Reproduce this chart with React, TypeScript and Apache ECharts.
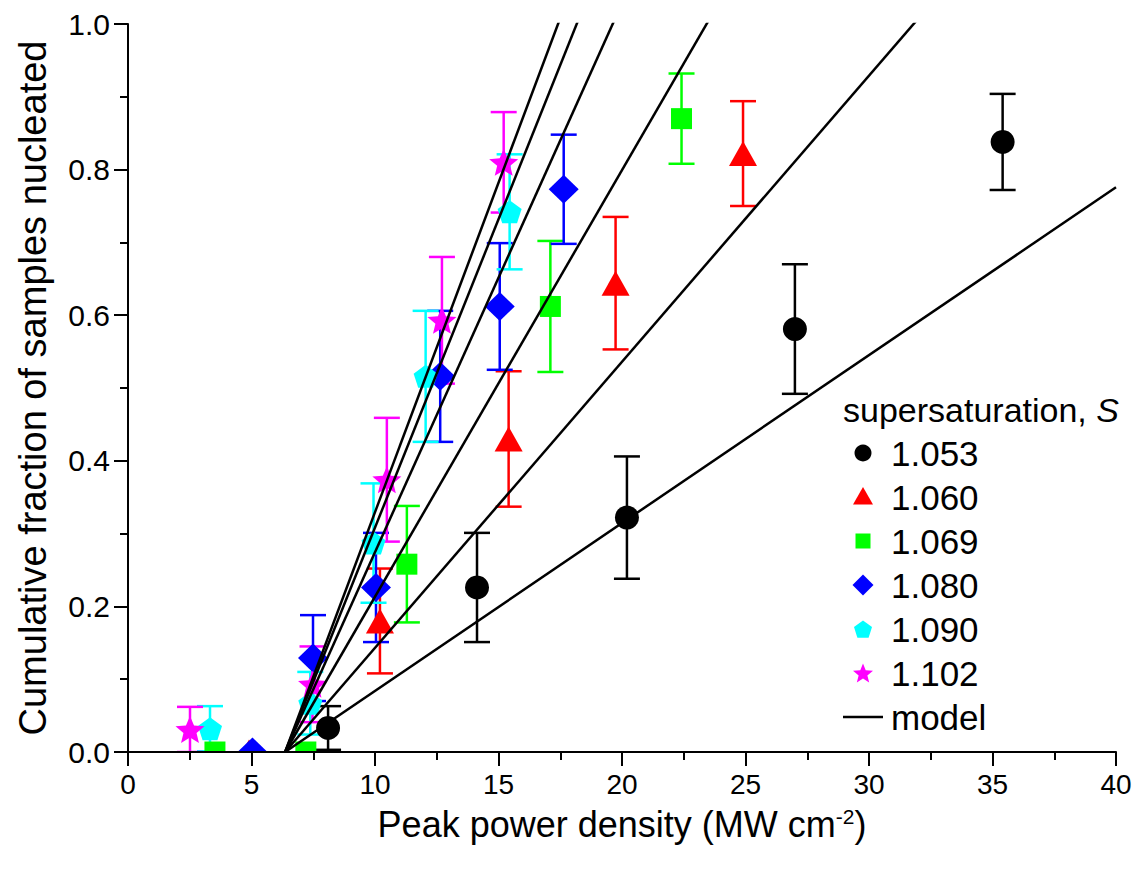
import React, { useEffect, useRef } from "react";
import * as echarts from "echarts";

// ---- data ----
const s1053X = [8.1, 14.13, 20.2, 27.0, 35.41];
const s1053Y = [0.033, 0.226, 0.322, 0.581, 0.838];
const s1053E = [0.03, 0.075, 0.084, 0.089, 0.066];

const s1060X = [4.9, 10.2, 15.41, 19.74, 24.9];
const s1060Y = [0, 0.18, 0.43, 0.644, 0.822];
const s1060E = [0, 0.072, 0.093, 0.091, 0.072];

const s1069X = [3.52, 7.2, 11.29, 17.1, 22.41];
const s1069Y = [0, 0, 0.258, 0.612, 0.87];
const s1069E = [0, 0, 0.08, 0.09, 0.062];

const s1080X = [5.04, 7.49, 10.04, 12.64, 15.05, 17.64];
const s1080Y = [0, 0.129, 0.226, 0.516, 0.612, 0.773];
const s1080E = [0, 0.059, 0.075, 0.09, 0.087, 0.075];

const s1090X = [3.32, 7.38, 9.94, 12.05, 15.45];
const s1090Y = [0.032, 0.067, 0.287, 0.516, 0.742];
const s1090E = [0.031, 0.043, 0.082, 0.09, 0.079];

const s1102X = [2.51, 7.47, 10.48, 12.71, 15.21];
const s1102Y = [0.031, 0.093, 0.374, 0.593, 0.81];
const s1102E = [0.031, 0.052, 0.085, 0.087, 0.069];

const seriesNames = ["1.053", "1.060", "1.069", "1.080", "1.090", "1.102"];
const seriesColors = ["#000000", "#ff0000", "#00ff00", "#0000ff", "#00ffff", "#ff00ff"];
const legendTitle = "supersaturation, ";
const legendTitleItalic = "S";
const modelName = "model";

// model: straight lines starting at a threshold power density
const modelThreshold = 6.36;
const modelSlopes = [0.02306, 0.0393, 0.0586, 0.0754, 0.0847, 0.0905];

const xMin = 0, xMax = 40, xStep = 5;
const yMin = 0, yMax = 1, yStep = 0.2;

const PENTAGON = "path://M50,0 L97.55,34.55 L79.39,90.45 L20.61,90.45 L2.45,34.55 Z";
const STAR =
  "path://M50,0 L63.23,31.8 L97.55,34.55 L71.4,56.95 L79.39,90.45 L50,72.5 L20.61,90.45 L28.6,56.95 L2.45,34.55 L36.77,31.8 Z";

const FONT = "Liberation Sans, Arial, sans-serif";

function starPoints(cx: number, cy: number, R: number, r: number, n: number) {
  const pts: number[][] = [];
  for (let k = 0; k < 2 * n; k++) {
    const a = -Math.PI / 2 + (k * Math.PI) / n;
    const rad = k % 2 === 0 ? R : r;
    pts.push([cx + rad * Math.cos(a), cy + rad * Math.sin(a)]);
  }
  return pts;
}
function regularPoints(cx: number, cy: number, R: number, n: number) {
  const pts: number[][] = [];
  for (let k = 0; k < n; k++) {
    const a = -Math.PI / 2 + (2 * k * Math.PI) / n;
    pts.push([cx + R * Math.cos(a), cy + R * Math.sin(a)]);
  }
  return pts;
}

export default function App() {
  const ref = useRef<HTMLDivElement>(null);

  useEffect(() => {
    document.body.style.margin = "0";
    const chart = echarts.init(ref.current!, null, { renderer: "svg" });

    const xs = [s1053X, s1060X, s1069X, s1080X, s1090X, s1102X];
    const ys = [s1053Y, s1060Y, s1069Y, s1080Y, s1090Y, s1102Y];
    const es = [s1053E, s1060E, s1069E, s1080E, s1090E, s1102E];
    const symbols: any[] = ["circle", "triangle", "rect", "diamond", PENTAGON, STAR];
    const sizes: any[] = [24, [28, 25], [21, 21], [30, 29], [24, 23], [29, 27]];

    const series: any[] = [];
    seriesNames.forEach((name, i) => {
      const color = seriesColors[i];
      const data = xs[i].map((x, j) => [x, ys[i][j], es[i][j]]);
      series.push({
        name: "err" + name,
        type: "custom",
        z: 2,
        clip: true,
        data,
        renderItem: (params: any, api: any) => {
          const x = api.value(0);
          const y = api.value(1);
          const e = api.value(2);
          if (!e) return { type: "group", children: [] };
          const top = api.coord([x, y + e]);
          const bot = api.coord([x, Math.max(0, y - e)]);
          const hw = 13;
          const style = { stroke: color, lineWidth: 2.5 };
          return {
            type: "group",
            children: [
              { type: "line", shape: { x1: top[0], y1: top[1], x2: bot[0], y2: bot[1] }, style },
              { type: "line", shape: { x1: top[0] - hw, y1: top[1], x2: top[0] + hw, y2: top[1] }, style },
              { type: "line", shape: { x1: bot[0] - hw, y1: bot[1], x2: bot[0] + hw, y2: bot[1] }, style },
            ],
          };
        },
      });
      series.push({
        name,
        type: "scatter",
        z: 2,
        clip: true,
        symbol: symbols[i],
        symbolSize: sizes[i],
        itemStyle: { color, opacity: 1 },
        data: data.map((d) => [d[0], d[1]]),
      });
    });

    modelSlopes.forEach((k) => {
      series.push({
        name: modelName,
        type: "line",
        z: 5,
        clip: true,
        symbol: "none",
        showSymbol: false,
        lineStyle: { color: "#000", width: 2.5 },
        data: [
          [modelThreshold, 0],
          [xMax, k * (xMax - modelThreshold)],
        ],
      });
    });

    // ---- hand-drawn legend ----
    const lgX = 843, lgSymX = 863, lgTextX = 891, lgY0 = 453, lgStep = 44;
    const legendGraphics: any[] = [
      {
        type: "text",
        x: lgX,
        y: 410,
        style: {
          text: `{a|${legendTitle}}{i|${legendTitleItalic}}`,
          verticalAlign: "middle",
          rich: {
            a: { fontSize: 34, fill: "#000", fontFamily: FONT },
            i: { fontSize: 34, fill: "#000", fontFamily: FONT, fontStyle: "italic" },
          },
        },
      },
    ];
    seriesNames.forEach((name, i) => {
      const cy = lgY0 + i * lgStep;
      const cx = lgSymX;
      const fill = seriesColors[i];
      let sym: any;
      if (i === 0) sym = { type: "circle", shape: { cx, cy, r: 8.5 }, style: { fill } };
      else if (i === 1)
        sym = { type: "polygon", shape: { points: [[cx - 10, cy + 7.5], [cx + 10, cy + 7.5], [cx, cy - 10]] }, style: { fill } };
      else if (i === 2) sym = { type: "rect", shape: { x: cx - 7.5, y: cy - 7.5, width: 15, height: 15 }, style: { fill } };
      else if (i === 3)
        sym = { type: "polygon", shape: { points: [[cx, cy - 10.5], [cx + 10.5, cy], [cx, cy + 10.5], [cx - 10.5, cy]] }, style: { fill } };
      else if (i === 4) sym = { type: "polygon", shape: { points: regularPoints(cx, cy + 1, 9.5, 5) }, style: { fill } };
      else sym = { type: "polygon", shape: { points: starPoints(cx, cy + 1, 10.5, 4.6, 5) }, style: { fill } };
      legendGraphics.push(sym);
      legendGraphics.push({
        type: "text",
        x: lgTextX,
        y: cy,
        style: { text: name, fontSize: 35, fill: "#000", fontFamily: FONT, verticalAlign: "middle" },
      });
    });
    {
      const cy = lgY0 + seriesNames.length * lgStep;
      legendGraphics.push({
        type: "line",
        shape: { x1: lgX, y1: cy, x2: lgX + 40, y2: cy },
        style: { stroke: "#000", lineWidth: 2.5 },
      });
      legendGraphics.push({
        type: "text",
        x: lgTextX,
        y: cy,
        style: { text: modelName, fontSize: 35, fill: "#000", fontFamily: FONT, verticalAlign: "middle" },
      });
    }
    // mask hiding the parts of markers that fall below the x axis
    legendGraphics.push({
      type: "rect",
      z: 4,
      shape: { x: 129, y: 753, width: 1010, height: 30 },
      style: { fill: "#fff" },
    });

    const axisCommon = {
      z: 10,
      axisLine: { show: true, onZero: false, lineStyle: { color: "#000", width: 2 } },
      axisTick: { show: true, inside: false, length: 14, lineStyle: { color: "#000", width: 2 } },
      minorTick: { show: true, splitNumber: 2, length: 8, lineStyle: { color: "#000", width: 2 } },
      splitLine: { show: false },
    };

    const option: any = {
      animation: false,
      backgroundColor: "#fff",
      textStyle: { fontFamily: FONT },
      grid: { left: 128, right: 23, top: 24, bottom: 120, containLabel: false },
      xAxis: {
        ...axisCommon,
        type: "value",
        min: xMin,
        max: xMax,
        interval: xStep,
        name: "{a|Peak power density (MW cm}{s|-2}{a|)}",
        nameLocation: "middle",
        nameGap: 54,
        nameTextStyle: {
          rich: {
            a: { fontSize: 36, color: "#000", fontFamily: FONT },
            s: { fontSize: 21, color: "#000", fontFamily: FONT, verticalAlign: "top", padding: [0, 0, 14, 0] },
          },
        },
        axisLabel: { fontSize: 28, color: "#000", margin: 18, fontFamily: FONT },
      },
      yAxis: {
        ...axisCommon,
        type: "value",
        min: yMin,
        max: yMax,
        interval: yStep,
        name: "Cumulative fraction of samples nucleated",
        nameLocation: "middle",
        nameGap: 76,
        nameTextStyle: { fontSize: 38, color: "#000", fontFamily: FONT },
        axisLabel: {
          fontSize: 30,
          color: "#000",
          margin: 18,
          fontFamily: FONT,
          formatter: (v: number) => v.toFixed(1),
        },
      },
      graphic: legendGraphics,
      series,
    };

    chart.setOption(option);
    return () => chart.dispose();
  }, []);

  return <div ref={ref} style={{ width: 1139, height: 872 }} />;
}
